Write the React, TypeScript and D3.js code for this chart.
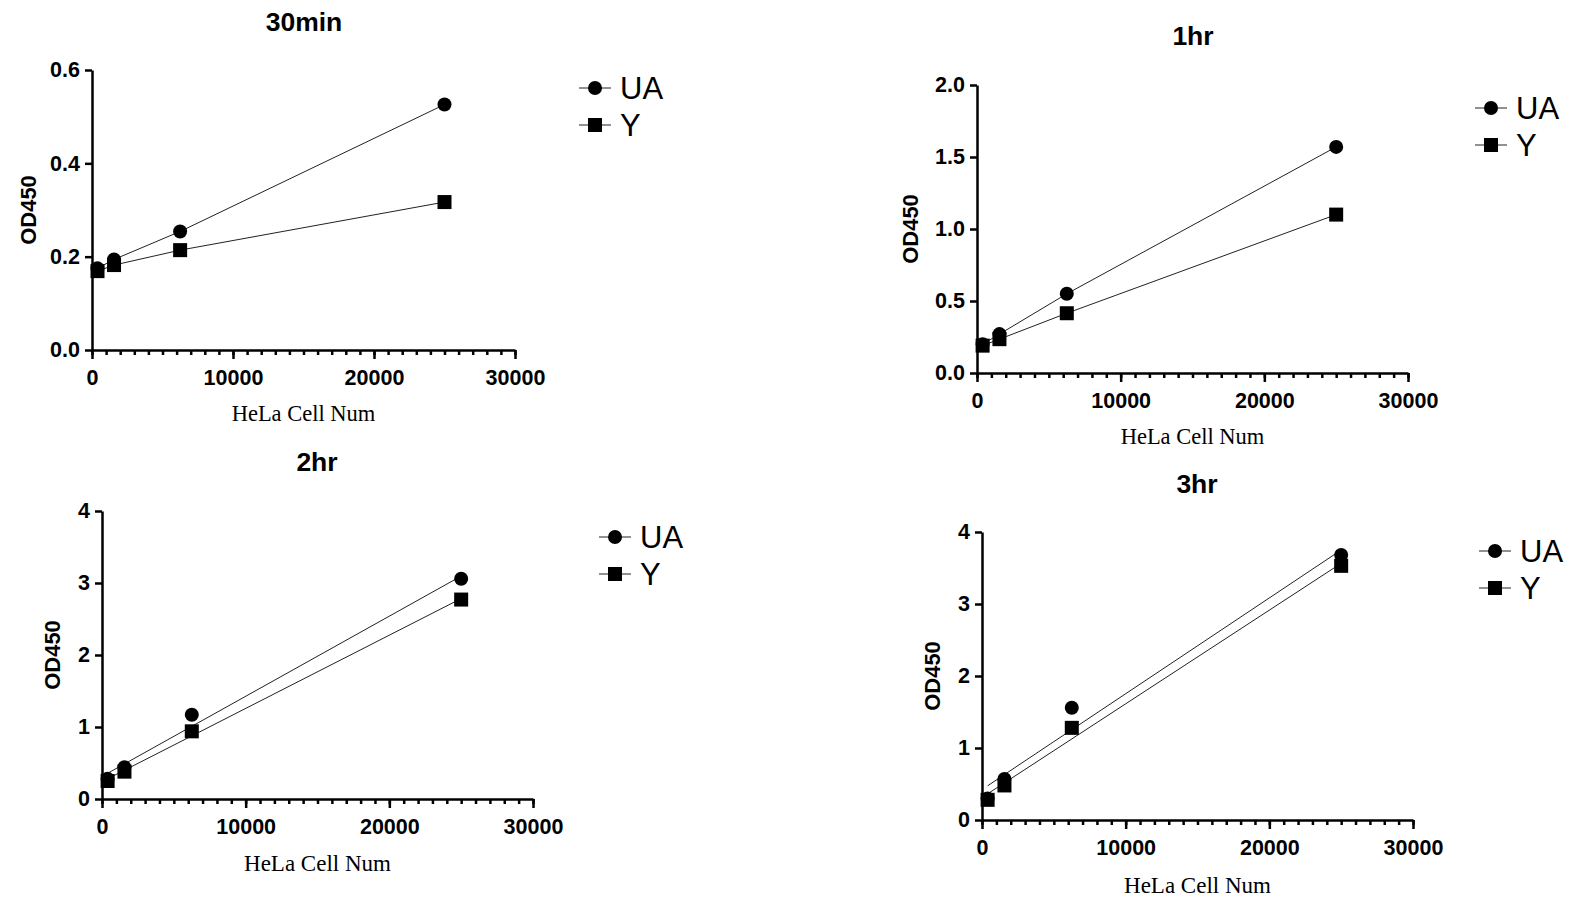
import { useEffect, useRef } from 'react';
import * as d3 from 'd3';

// cell numbers (4-fold dilution series)
const cellNum = [390.625, 1562.5, 6250, 25000];

const ua30min = [0.175, 0.194, 0.254, 0.526];
const y30min = [0.169, 0.182, 0.214, 0.317];
const ua1hr = [0.2, 0.27, 0.55, 1.57];
const y1hr = [0.19, 0.235, 0.415, 1.1];
const ua2hr = [0.28, 0.44, 1.17, 3.06];
const y2hr = [0.25, 0.38, 0.94, 2.77];
const ua3hr = [0.3, 0.57, 1.56, 3.68];
const y3hr = [0.28, 0.48, 1.28, 3.53];

const panelTitles = ['30min', '1hr', '2hr', '3hr'];
const seriesNames = ['UA', 'Y'];
const xTicks = [0, 10000, 20000, 30000];
const yTicks30min = [0, 0.2, 0.4, 0.6];
const yTicks1hr = [0, 0.5, 1.0, 1.5, 2.0];
const yTicksHr = [0, 1, 2, 3, 4];

const W = 1581;
const H = 897;

// layout of each panel in page pixels
const panels = [
  { title: panelTitles[0], ua: ua30min, y: y30min, ticks: yTicks30min, fmt: '.1f', fit: false,
    left: 92, right: 515, bottom: 350, top: 70, titleX: 304, titleY: 22, xlabY: 413, ylabX: 28, legX: 595, legY: 88, labFs: 22.5 },
  { title: panelTitles[1], ua: ua1hr, y: y1hr, ticks: yTicks1hr, fmt: '.1f', fit: false,
    left: 977, right: 1408, bottom: 373, top: 85, titleX: 1193, titleY: 36, xlabY: 436, ylabX: 910, legX: 1491, legY: 108, labFs: 22.5 },
  { title: panelTitles[2], ua: ua2hr, y: y2hr, ticks: yTicksHr, fmt: 'd', fit: true,
    left: 102, right: 533, bottom: 799, top: 511, titleX: 317, titleY: 462, xlabY: 863, ylabX: 52, legX: 615, legY: 537, labFs: 23 },
  { title: panelTitles[3], ua: ua3hr, y: y3hr, ticks: yTicksHr, fmt: 'd', fit: true,
    left: 982, right: 1413, bottom: 820, top: 532, titleX: 1197, titleY: 484, xlabY: 885, ylabX: 932, legX: 1495, legY: 551, labFs: 23 },
];

// least squares line
const fitLine = (xs: number[], ys: number[]) => {
  const mx = d3.mean(xs) as number;
  const my = d3.mean(ys) as number;
  let sxy = 0, sxx = 0;
  xs.forEach((x, i) => { sxy += (x - mx) * (ys[i] - my); sxx += (x - mx) * (x - mx); });
  const b = sxy / sxx;
  const a = my - b * mx;
  return (x: number) => a + b * x;
};

const sans = '"Liberation Sans", Arial, sans-serif';
const serif = '"Liberation Serif", "Times New Roman", serif';

const App = () => {
  const svgRef = useRef(null);

  useEffect(() => {
    const svg = d3.select(svgRef.current);
    svg.selectAll('*').remove();

    panels.forEach((p) => {
      const g = svg.append('g');
      const x = d3.scaleLinear().domain([0, 30000]).range([p.left, p.right]);
      const y = d3.scaleLinear().domain([0, p.ticks[p.ticks.length - 1]]).range([p.bottom, p.top]);

      // minor x ticks
      const minor = g.append('g')
        .attr('transform', `translate(0,${p.bottom})`)
        .call(d3.axisBottom(x).tickValues(d3.range(0, 30001, 1000)).tickSize(5).tickSizeOuter(0).tickFormat(() => ''));
      minor.select('path').remove();
      minor.selectAll('line').attr('stroke', '#000').attr('stroke-width', 2.5);

      // major x axis
      const xAxis = g.append('g')
        .attr('transform', `translate(0,${p.bottom})`)
        .call(d3.axisBottom(x).tickValues(xTicks).tickSize(9).tickSizeOuter(0).tickPadding(11).tickFormat(d3.format('d')));
      xAxis.select('path').attr('stroke', '#000').attr('stroke-width', 2.5);
      xAxis.selectAll('line').attr('stroke', '#000').attr('stroke-width', 2.5);
      xAxis.selectAll('text')
        .attr('fill', '#000').attr('font-family', sans).attr('font-weight', 'bold').attr('font-size', '21.5px');

      // y axis
      const yAxis = g.append('g')
        .attr('transform', `translate(${p.left},0)`)
        .call(d3.axisLeft(y).tickValues(p.ticks).tickSize(7).tickSizeOuter(0).tickPadding(5).tickFormat(d3.format(p.fmt)));
      yAxis.select('path').attr('stroke', '#000').attr('stroke-width', 2.5);
      yAxis.selectAll('line').attr('stroke', '#000').attr('stroke-width', 2.5);
      yAxis.selectAll('text')
        .attr('fill', '#000').attr('font-family', sans).attr('font-weight', 'bold').attr('font-size', '21.5px');

      // titles
      g.append('text')
        .attr('x', p.titleX).attr('y', p.titleY).attr('dy', '0.35em')
        .attr('text-anchor', 'middle').attr('font-family', sans).attr('font-weight', 'bold').attr('font-size', '26.5px')
        .text(p.title);
      g.append('text')
        .attr('x', (p.left + p.right) / 2).attr('y', p.xlabY).attr('dy', '0.35em')
        .attr('text-anchor', 'middle').attr('font-family', serif).attr('font-size', `${p.labFs}px`)
        .text('HeLa Cell Num');
      g.append('text')
        .attr('transform', `translate(${p.ylabX},${(p.top + p.bottom) / 2}) rotate(-90)`)
        .attr('dy', '0.35em')
        .attr('text-anchor', 'middle').attr('font-family', sans).attr('font-weight', 'bold').attr('font-size', '22px')
        .text('OD450');

      // lines
      const series = [p.ua, p.y];
      series.forEach((vals) => {
        let pts: [number, number][];
        if (p.fit) {
          const f = fitLine(cellNum, vals);
          pts = [[cellNum[0], f(cellNum[0])], [cellNum[3], f(cellNum[3])]];
        } else {
          pts = cellNum.map((c, i) => [c, vals[i]] as [number, number]);
        }
        g.append('path')
          .attr('d', d3.line<[number, number]>().x((d) => x(d[0])).y((d) => y(d[1]))(pts))
          .attr('fill', 'none').attr('stroke', '#222').attr('stroke-width', 1);
      });

      // markers
      g.selectAll('circle.ua').data(cellNum).join('circle')
        .attr('cx', (d) => x(d)).attr('cy', (_d, i) => y(p.ua[i])).attr('r', 7).attr('fill', '#000');
      g.selectAll('rect.yy').data(cellNum).join('rect')
        .attr('x', (d) => x(d) - 7).attr('y', (_d, i) => y(p.y[i]) - 7)
        .attr('width', 14).attr('height', 14).attr('fill', '#000');

      // legend
      seriesNames.forEach((name, i) => {
        const ly = p.legY + i * 37;
        g.append('line')
          .attr('x1', p.legX - 16).attr('x2', p.legX + 16).attr('y1', ly).attr('y2', ly)
          .attr('stroke', '#222').attr('stroke-width', 1);
        if (i === 0) {
          g.append('circle').attr('cx', p.legX).attr('cy', ly).attr('r', 7).attr('fill', '#000');
        } else {
          g.append('rect').attr('x', p.legX - 7).attr('y', ly - 7).attr('width', 14).attr('height', 14).attr('fill', '#000');
        }
        g.append('text')
          .attr('x', p.legX + 25).attr('y', ly).attr('dy', '0.36em')
          .attr('font-family', sans).attr('font-size', '31px').attr('fill', '#000')
          .text(name);
      });
    });
  }, []);

  return (
    <svg
      ref={svgRef}
      width={W}
      height={H}
      style={{ position: 'absolute', left: 0, top: 0, background: '#fff' }}
    />
  );
};

export default App;
